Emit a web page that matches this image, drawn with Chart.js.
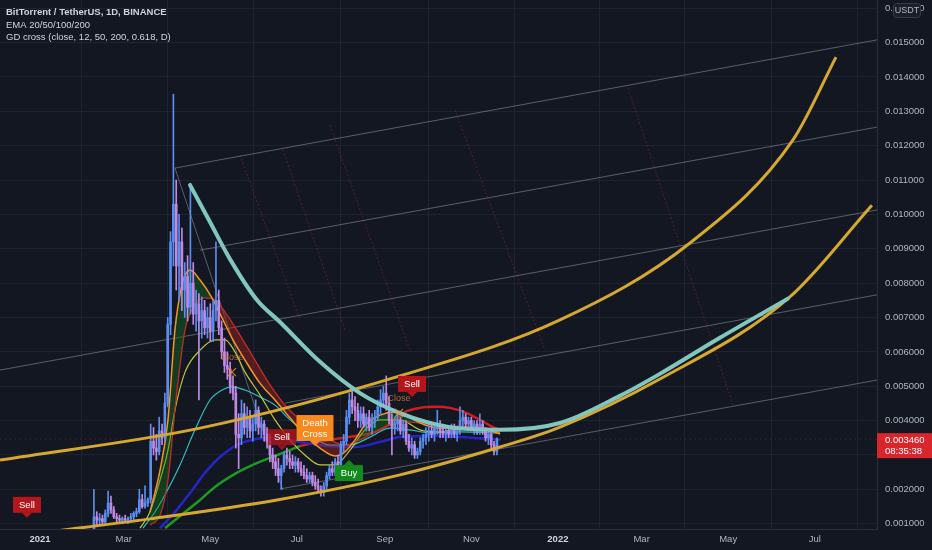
<!DOCTYPE html>
<html>
<head>
<meta charset="utf-8">
<script src="https://cdn.jsdelivr.net/npm/chart.js@4.4.0/dist/chart.umd.min.js"></script>
<style>
  html, body { margin: 0; padding: 0; background: #131722; }
  canvas { display: block; }
</style>
</head>
<body>
<canvas id="chart" width="932" height="550"></canvas>
<script>
// x = days since 2021-01-01, y = price in thousandths of USDT
const monthDays = [0, 59, 120, 181, 243, 304, 365, 424, 485, 546];
const monthLabels = ['2021', 'Mar', 'May', 'Jul', 'Sep', 'Nov', '2022', 'Mar', 'May', 'Jul'];
const priceTicks = [1, 2, 3, 4, 5, 6, 7, 8, 9, 10, 11, 12, 13, 14, 15, 16];

// daily candles, 2 day buckets starting Feb 7 2021
const firstDay = 38, dayStep = 2, firstOpen = 0.6;
const closes = [
  1.2, 1.1, 1.15, 1.05, 1.3, 1.6, 1.4, 1.2, 1.15, 1.1,
  1.15, 1.1, 1.15, 1.2, 1.3, 1.35, 1.7, 1.5, 1.6, 1.7,
  3.4, 3.2, 3.1, 3.7, 3.5, 4.5, 6.8, 9.2, 10.3, 8.5,
  9.2, 7.8, 8.2, 7.3, 8.0, 7.1, 7.4, 6.9, 7.2, 6.7,
  7.0, 6.6, 7.2, 7.5, 6.7, 6.0, 5.6, 5.5, 5.0, 4.8,
  3.6, 3.5, 4.2, 3.8, 4.1, 3.7, 3.9, 4.3, 3.8, 3.9,
  3.6, 3.4, 3.0, 2.8, 2.6, 2.4, 2.6, 3.0, 2.9, 2.8,
  2.7, 2.8, 2.6, 2.5, 2.4, 2.3, 2.4, 2.2, 2.1, 2.0,
  1.9, 2.1, 2.4, 2.6, 2.5, 2.8, 2.7, 3.3, 3.4, 4.1,
  4.6, 4.4, 4.3, 4.0, 4.2, 3.9, 4.1, 3.8, 4.0, 4.1,
  4.4, 4.6, 4.8, 4.5, 4.0, 3.8, 3.9, 4.0, 3.7, 3.9,
  3.4, 3.2, 3.3, 3.0, 3.1, 3.4, 3.5, 3.6, 3.7, 3.6,
  3.8, 3.9, 3.7, 3.6, 3.7, 3.6, 3.8, 3.6, 3.7, 4.0,
  4.1, 3.9, 4.0, 3.8, 3.9, 3.7, 3.9, 3.7, 3.5, 3.6,
  3.3, 3.1, 3.46
];
const highs = [
  2.0, 1.35, 1.3, 1.25, 1.4, 1.95, 1.8, 1.5, 1.3, 1.25,
  1.2, 1.25, 1.2, 1.3, 1.35, 1.45, 2.0, 1.85, 2.1, 1.75,
  3.9, 3.8, 3.6, 4.1, 3.9, 4.8, 7.0, 9.5, 13.5, 11.0,
  10.0, 9.6, 8.6, 8.8, 10.8, 8.6, 7.8, 7.7, 7.6, 7.5,
  7.3, 7.4, 7.5, 9.2, 7.8, 6.9, 6.4, 6.0, 5.7, 5.3,
  5.0, 4.2, 4.6, 4.5, 4.4, 4.3, 4.1, 4.6, 4.4, 4.1,
  4.0, 3.8, 3.6, 3.2, 3.0, 2.9, 2.7, 3.1, 3.2, 3.1,
  3.0, 2.95, 2.9, 2.8, 2.7, 2.6, 2.5, 2.5, 2.4, 2.3,
  2.1, 2.2, 2.5, 2.7, 2.8, 2.9, 3.0, 3.4, 3.6, 4.3,
  4.8, 5.0, 4.7, 4.5, 4.4, 4.4, 4.2, 4.3, 4.2, 4.3,
  4.6, 4.9, 5.0, 5.3, 4.7, 4.2, 4.1, 4.2, 4.1, 4.0,
  4.0, 3.6, 3.5, 3.4, 3.2, 3.5, 3.6, 3.8, 3.9, 3.9,
  3.9, 4.3, 4.0, 3.9, 3.8, 3.8, 3.9, 3.9, 3.8, 4.4,
  4.3, 4.2, 4.1, 4.1, 4.0, 4.0, 4.2, 4.0, 3.8, 3.7,
  3.7, 3.4, 3.5
];
const lows = [
  0.5, 0.95, 0.95, 1.0, 1.0, 1.2, 1.3, 1.15, 1.05, 1.0,
  1.0, 1.05, 1.0, 1.05, 1.1, 1.2, 1.3, 1.45, 1.45, 1.5,
  1.6, 3.0, 2.85, 3.0, 3.3, 3.4, 4.4, 6.5, 8.5, 7.8,
  7.5, 7.2, 7.0, 6.9, 7.1, 6.8, 6.6, 4.6, 6.4, 6.5,
  6.4, 6.3, 6.3, 6.9, 6.5, 5.8, 5.4, 5.2, 4.8, 4.6,
  3.2, 2.6, 3.3, 3.6, 3.5, 3.5, 3.4, 3.7, 3.6, 3.5,
  3.4, 3.2, 2.8, 2.6, 2.4, 2.2, 2.0, 2.5, 2.7, 2.6,
  2.6, 2.5, 2.5, 2.4, 2.3, 2.2, 2.2, 2.1, 2.0, 1.95,
  1.8, 1.8, 2.0, 2.3, 2.4, 2.4, 2.6, 2.6, 3.1, 3.3,
  3.9, 4.2, 4.0, 3.8, 3.8, 3.8, 3.7, 3.7, 3.6, 3.8,
  4.0, 4.2, 4.4, 4.3, 3.9, 3.0, 3.6, 3.7, 3.6, 3.5,
  3.3, 3.1, 3.0, 2.9, 2.9, 3.0, 3.2, 3.3, 3.4, 3.5,
  3.4, 3.6, 3.5, 3.5, 3.4, 3.5, 3.5, 3.5, 3.4, 3.6,
  3.8, 3.8, 3.7, 3.7, 3.6, 3.6, 3.6, 3.6, 3.4, 3.3,
  3.2, 3.0, 3.0
];
const lastPrice = 3.46;

// EMA 20/50/100/200
const ema20Days = [70.5, 77.5, 84.6, 90.2, 95.1, 102.2, 112.8, 123.3, 130.4, 137.4, 144.5, 155.0, 165.6, 176.2, 186.7, 197.3, 207.9, 218.5, 229.0, 239.6, 253.7, 267.8, 281.9, 296.0, 310.1, 324.2];
const ema20Vals = [0.87, 1.34, 2.27, 3.14, 4.31, 5.41, 6.05, 6.35, 6.35, 6.00, 5.41, 4.75, 4.02, 3.44, 3.00, 2.71, 2.71, 3.14, 3.73, 4.02, 4.02, 3.73, 3.67, 3.78, 3.78, 3.64];
const ema50Days = [72.6, 81.0, 88.1, 98.7, 109.2, 119.8, 128.3, 135.3, 144.5, 155.0, 165.6, 176.2, 190.3, 204.4, 218.5, 232.6, 246.7, 260.7, 274.8, 296.0, 324.2];
const ema50Vals = [0.87, 1.34, 1.84, 2.71, 3.73, 4.60, 4.89, 4.98, 4.89, 4.69, 4.45, 4.02, 3.58, 3.29, 3.29, 3.52, 3.78, 3.73, 3.64, 3.67, 3.64];
const ema100Days = [84.6, 95.1, 105.7, 116.3, 126.9, 138.8, 151.5, 165.6, 183.2, 204.4, 222.0, 239.6, 253.7, 274.8, 296.0, 324.2];
const ema100Vals = [0.87, 1.34, 1.89, 2.48, 2.94, 3.29, 3.46, 3.49, 3.38, 3.26, 3.23, 3.38, 3.52, 3.55, 3.52, 3.44];
const ema200Days = [88.1, 102.2, 112.8, 123.3, 137.4, 151.5, 165.6, 183.2];
const ema200Vals = [0.87, 1.34, 1.69, 2.07, 2.45, 2.74, 2.97, 3.26];
const ema200RedDays = [183.2, 204.4, 222.0, 236.1, 246.7, 257.2, 267.8, 279.8, 288.9, 300.9, 310.1, 319.2, 324.2];
const ema200RedVals = [3.26, 3.44, 3.55, 3.67, 3.90, 4.25, 4.37, 4.40, 4.37, 4.22, 4.02, 3.81, 3.73];

// GD cross fast / slow
const fastDays = [77.5, 84.6, 90.2, 95.1, 100.1, 105.7, 112.8, 121.2, 128.3, 135.3, 144.5, 155.0, 165.6, 176.2, 186.7, 197.3, 207.9, 214.9, 222.0, 229.0, 239.6, 250.2, 260.7, 271.3, 281.9, 296.0, 310.1, 324.2];
const fastVals = [1.34, 2.56, 4.02, 6.64, 7.95, 8.38, 8.09, 7.57, 6.99, 6.40, 5.76, 5.09, 4.60, 4.08, 3.58, 3.20, 2.97, 3.09, 3.44, 3.87, 4.16, 4.25, 4.08, 3.87, 3.78, 3.81, 3.78, 3.61];
const slowDays = [77.5, 84.6, 90.2, 95.8, 102.2, 109.2, 116.3, 123.3, 130.4, 140.9, 151.5, 162.1, 172.7, 183.2, 193.8, 204.4, 214.9, 225.5, 236.1, 246.7, 257.2, 267.8, 281.9, 296.0, 310.1, 324.2];
const slowVals = [0.96, 1.25, 2.27, 4.60, 6.64, 7.36, 7.57, 7.51, 7.16, 6.49, 5.76, 5.04, 4.45, 4.02, 3.67, 3.44, 3.29, 3.44, 3.67, 3.87, 3.96, 3.93, 3.87, 3.84, 3.81, 3.73];

// drawn arcs
const upperArcDays = [-28.2, 112.8, 253.7, 366.5, 458.1, 530.7, 561.0];
const upperArcVals = [2.85, 3.78, 5.30, 6.93, 9.17, 12.17, 14.58];
const lowerArcDays = [0, 77.5, 167.0, 253.7, 324.2, 366.5, 436.9, 528.5, 586.3];
const lowerArcVals = [0.73, 1.14, 1.69, 2.42, 3.23, 3.81, 5.21, 7.60, 10.27];
const cupDays = [105.7, 119.8, 133.9, 152.9, 169.1, 197.3, 225.5, 253.7, 288.9, 324.2, 366.5, 408.7, 436.9, 479.2, 527.1];
const cupVals = [10.86, 9.78, 8.70, 7.51, 6.87, 5.71, 4.80, 4.22, 3.81, 3.73, 3.93, 4.72, 5.36, 6.41, 7.55];

// parallel channel lines: [startDay, startPrice, endDay, endPrice]
const channelLines = [
  [95.1, 11.35, 589.9, 15.08],
  [112.8, 8.96, 589.9, 12.54],
  [-28.2, 5.47, 589.9, 10.13],
  [172.7, 4.51, 589.9, 7.66],
  [169.1, 2.01, 589.9, 5.18],
  [95.1, 11.35, 171.2, 1.98]
];
// red dotted time lines
const timeLines = [
  [140.9, 11.73, 183.2, 6.93],
  [171.2, 11.88, 214.9, 6.64],
  [204.4, 12.60, 260.7, 6.05],
  [292.5, 13.04, 355.9, 6.05],
  [414.4, 13.68, 488.4, 4.45]
];

// signal labels: tip position
const signalDays = [-9.2, 170.5, 193.8, 217.8, 262.2];
const signalPrices = [1.17, 3.14, 3.26, 2.85, 4.69];
const signalTexts = ['Sell', 'Sell', 'Death|Cross', 'Buy', 'Sell'];
const closeMarkDays = [135.3, 253.0];
const closeMarkPrices = [5.41, 4.22];

const BG = '#131722';
const FONT = '"Liberation Sans", Arial, sans-serif';
const datasets = [];

function pts(days, vals) {
  return days.map((d, i) => ({x: d, y: vals[i]}));
}
function addLine(days, vals, color, width, order, extra) {
  datasets.push(Object.assign({
    type: 'line', data: pts(days, vals), borderColor: color, borderWidth: width,
    pointRadius: 0, cubicInterpolationMode: 'monotone', fill: false, order: order
  }, extra || {}));
  return datasets.length - 1;
}

// arcs on top
addLine(cupDays, cupVals, '#82c6c0', 4, 1, {borderCapStyle: 'round'});
addLine(upperArcDays, upperArcVals, '#d6a832', 3, 2);
addLine(lowerArcDays, lowerArcVals, '#d6a832', 3, 2);

// candles
var wickData = [], bodyData = [], candleColors = [];
var prev = firstOpen;
for (var i = 0; i < closes.length; i++) {
  var d = firstDay + i * dayStep;
  wickData.push({x: d, y: [lows[i], highs[i]]});
  bodyData.push({x: d, y: [Math.min(prev, closes[i]), Math.max(prev, closes[i])]});
  candleColors.push(closes[i] >= prev ? '#5a8ef0' : '#c08ae4');
  prev = closes[i];
}
datasets.push({type: 'bar', data: bodyData, backgroundColor: candleColors, barThickness: 2, grouped: false, order: 3});
datasets.push({type: 'bar', data: wickData, backgroundColor: candleColors, barThickness: 1, grouped: false, order: 4});

// indicators
var slowIdx = addLine(slowDays, slowVals, '#d0282a', 1.3, 6);
addLine(fastDays, fastVals, '#f59427', 1.5, 5, {
  fill: {target: slowIdx, above: 'rgba(24,120,30,0.38)', below: 'rgba(190,40,30,0.38)'}
});
addLine(ema20Days, ema20Vals, '#bfc43a', 1.2, 7);
addLine(ema50Days, ema50Vals, '#2fbfc4', 1.2, 8);
addLine(ema100Days, ema100Vals, '#2525c8', 2.5, 9);
addLine(ema200Days, ema200Vals, '#1d9a22', 2.5, 10);
addLine(ema200RedDays, ema200RedVals, '#cc1f1f', 2.5, 10);

// price line
addLine([-28.2, 589.9], [lastPrice, lastPrice], 'rgba(225,60,70,0.35)', 1, 15, {borderDash: [1, 4]});

// channel + time lines
channelLines.forEach(function (l) {
  addLine([l[0], l[2]], [l[1], l[3]], 'rgba(170,180,192,0.45)', 1, 20);
});
timeLines.forEach(function (l) {
  addLine([l[0], l[2]], [l[1], l[3]], 'rgba(160,30,60,0.5)', 1, 21, {borderDash: [2, 2]});
});

const bgPlugin = {
  id: 'bg',
  beforeDraw(chart) {
    const c = chart.ctx;
    c.save();
    c.fillStyle = BG;
    c.fillRect(0, 0, chart.width, chart.height);
    c.restore();
  }
};

function drawSignal(c, x, y, text, kind) {
  var lines = text.split('|');
  var w = lines.length > 1 ? 37 : 28;
  var h = lines.length > 1 ? 26 : 16;
  var color = kind === 'buy' ? '#138a1c' : (kind === 'cross' ? '#f7891f' : '#b3161b');
  var up = kind === 'buy';
  var top = up ? y + 5 : y - 5 - h;
  c.fillStyle = color;
  c.globalAlpha = kind === 'sell2' ? 0.8 : 1;
  c.fillRect(x - w / 2, top, w, h);
  c.beginPath();
  if (up) { c.moveTo(x - 5, y + 5); c.lineTo(x, y); c.lineTo(x + 5, y + 5); }
  else { c.moveTo(x - 5, y - 5); c.lineTo(x, y); c.lineTo(x + 5, y - 5); }
  c.fill();
  c.globalAlpha = 1;
  c.fillStyle = '#ffffff';
  c.font = '9.5px ' + FONT;
  c.textAlign = 'center';
  c.textBaseline = 'middle';
  lines.forEach(function (t, k) {
    c.fillText(t, x, top + h / 2 + (k - (lines.length - 1) / 2) * 11 + 0.5);
  });
}

const overlayPlugin = {
  id: 'overlay',
  afterDatasetsDraw(chart) {
    const c = chart.ctx, xs = chart.scales.x, ys = chart.scales.y;
    const a = chart.chartArea;
    c.save();
    c.beginPath();
    c.rect(a.left, a.top, a.right - a.left, a.bottom - a.top);
    c.clip();
    // close markers
    c.font = '9px ' + FONT;
    c.textAlign = 'center';
    c.textBaseline = 'middle';
    closeMarkDays.forEach(function (d, i) {
      var x = xs.getPixelForValue(d), y = ys.getPixelForValue(closeMarkPrices[i]);
      c.fillStyle = 'rgba(245,140,50,0.7)';
      c.fillText('Close', x, y - 15);
      c.strokeStyle = 'rgba(245,140,50,0.85)';
      c.lineWidth = 1.2;
      c.beginPath();
      c.moveTo(x - 4, y - 4); c.lineTo(x + 4, y + 4);
      c.moveTo(x + 4, y - 4); c.lineTo(x - 4, y + 4);
      c.stroke();
    });
    var kinds = ['sell', 'sell2', 'cross', 'buy', 'sell'];
    signalDays.forEach(function (d, i) {
      drawSignal(c, xs.getPixelForValue(d), ys.getPixelForValue(signalPrices[i]), signalTexts[i], kinds[i]);
    });
    c.restore();

    // legend
    c.save();
    c.textAlign = 'left';
    c.textBaseline = 'middle';
    c.fillStyle = '#d1d4dc';
    c.font = 'bold 9.5px ' + FONT;
    c.fillText('BitTorrent / TetherUS, 1D, BINANCE', 6, 12);
    c.font = '9.5px ' + FONT;
    c.fillText('EMA 20/50/100/200', 6, 25);
    c.fillText('GD cross (close, 12, 50, 200, 0.618, D)', 6, 37);
    c.restore();
  },
  afterDraw(chart) {
    const c = chart.ctx, ys = chart.scales.y;
    c.save();
    // last price tag
    var py = ys.getPixelForValue(lastPrice);
    c.fillStyle = '#d9252c';
    c.fillRect(877, py - 6, 55, 25);
    c.fillStyle = '#ffffff';
    c.font = '9.5px ' + FONT;
    c.textAlign = 'left';
    c.textBaseline = 'middle';
    c.fillText((lastPrice / 1000).toFixed(6), 885, py + 1);
    c.fillText('08:35:38', 885, py + 12);
    // currency badge
    c.fillStyle = '#1b1f2b';
    c.strokeStyle = '#363a45';
    c.lineWidth = 1;
    c.beginPath();
    c.roundRect(893.5, 3.5, 27, 14, 3);
    c.fill();
    c.stroke();
    c.fillStyle = '#b2b5be';
    c.font = '9px ' + FONT;
    c.textAlign = 'center';
    c.fillText('USDT', 907, 11);
    c.restore();
  }
};

new Chart(document.getElementById('chart'), {
  type: 'bar',
  data: {datasets: datasets},
  options: {
    responsive: false,
    animation: false,
    events: [],
    layout: {padding: 0, autoPadding: false},
    plugins: {legend: {display: false}, tooltip: {enabled: false}},
    scales: {
      x: {
        type: 'linear', min: -28.2, max: 589.9, offset: false,
        grid: {color: '#1f2330', drawTicks: false},
        border: {display: true, color: '#2a2e39'},
        afterBuildTicks: function (s) { s.ticks = monthDays.map(v => ({value: v})); },
        afterFit: function (s) { s.height = 21; s.paddingLeft = 0; s.paddingRight = 0; },
        ticks: {
          autoSkip: false, maxRotation: 0, padding: 5,
          color: function (ctx) { return (ctx.tick && ctx.tick.value % 365 === 0) ? '#d1d4dc' : '#b2b5be'; },
          font: function (ctx) {
            var yr = ctx.tick && ctx.tick.value % 365 === 0;
            return {family: FONT, size: 9.5, weight: yr ? 'bold' : 'normal'};
          },
          callback: function (v) { return monthLabels[monthDays.indexOf(v)]; }
        }
      },
      y: {
        type: 'linear', position: 'right', min: 0.845, max: 16.241,
        grid: {color: '#1f2330', drawTicks: false},
        border: {display: true, color: '#2a2e39'},
        afterBuildTicks: function (s) { s.ticks = priceTicks.map(v => ({value: v})); },
        afterFit: function (s) { s.width = 55; s.paddingTop = 0; s.paddingBottom = 0; },
        ticks: {
          padding: 8, color: '#b2b5be',
          font: {family: FONT, size: 9.5},
          callback: function (v) { return (v / 1000).toFixed(6); }
        }
      }
    }
  },
  plugins: [bgPlugin, overlayPlugin]
});
</script>
</body>
</html>
